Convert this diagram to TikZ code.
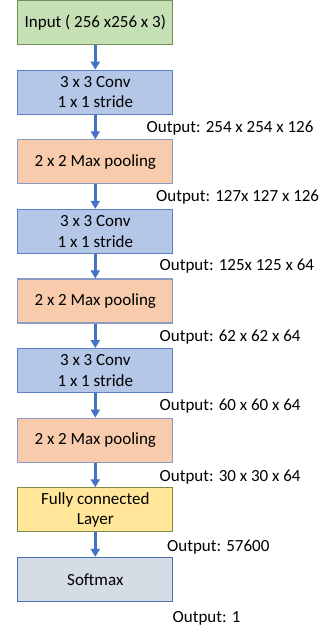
\documentclass[tikz,border=0pt]{standalone}
\usepackage{fontspec}
\setmainfont{Carlito}
\usepackage{tikz}
\usetikzlibrary{arrows.meta,positioning}
\definecolor{inputfill}{HTML}{C5E0B4}
\definecolor{inputdraw}{HTML}{6F8F55}
\definecolor{convfill}{HTML}{B4C7E7}
\definecolor{convdraw}{HTML}{5B7FC4}
\definecolor{poolfill}{HTML}{F8CBAD}
\definecolor{pooldraw}{HTML}{8A9BC6}
\definecolor{fcfill}{HTML}{FFE699}
\definecolor{fcdraw}{HTML}{7A8A48}
\definecolor{softfill}{HTML}{D6DCE5}
\definecolor{softdraw}{HTML}{4A6FB5}
\definecolor{arrowblue}{HTML}{4472C4}

\begin{document}
\begin{tikzpicture}[x=1pt, y=1pt,
    layer/.style={draw, line width=1.1pt, minimum width=155pt, minimum height=44pt,
        inner sep=0pt, align=center, font=\fontsize{17}{20.4}\selectfont},
    outlbl/.style={anchor=west, inner sep=0pt, font=\fontsize{17}{20.4}\selectfont},
    flow/.style={arrowblue, line width=3pt, -{Triangle[width=9pt, length=8pt]}},
    node distance=24.5pt]
    \useasboundingbox (0,0) rectangle (326,-633);

    % Layers
    \node[layer, fill=inputfill, draw=inputdraw] (input) at (95.3,-22.6) {Input ( 256 x256 x 3)};
    \node[layer, fill=convfill, draw=convdraw, below=of input] (conv1) {3 x 3 Conv\\1 x 1 stride};
    \node[layer, fill=poolfill, draw=pooldraw, below=of conv1] (pool1) {2 x 2 Max pooling};
    \node[layer, fill=convfill, draw=convdraw, below=of pool1] (conv2) {3 x 3 Conv\\1 x 1 stride};
    \node[layer, fill=poolfill, draw=pooldraw, below=of conv2] (pool2) {2 x 2 Max pooling};
    \node[layer, fill=convfill, draw=convdraw, below=of pool2] (conv3) {3 x 3 Conv\\1 x 1 stride};
    \node[layer, fill=poolfill, draw=pooldraw, below=of conv3] (pool3) {2 x 2 Max pooling};
    \node[layer, fill=fcfill, draw=fcdraw, below=of pool3] (fc) {Fully connected\\Layer};
    \node[layer, fill=softfill, draw=softdraw, below=of fc] (softmax) {Softmax};

    % Arrows
    \draw[flow] (input) -- (conv1);
    \draw[flow] (conv1) -- (pool1);
    \draw[flow] (pool1) -- (conv2);
    \draw[flow] (conv2) -- (pool2);
    \draw[flow] (pool2) -- (conv3);
    \draw[flow] (conv3) -- (pool3);
    \draw[flow] (pool3) -- (fc);
    \draw[flow] (fc) -- (softmax);

    % Output sizes
    \node[outlbl] (out1) at (146.5,-128) {Output: 254 x 254 x 126};
    \node[outlbl] (out2) at (156,-197) {Output: 127x 127 x 126};
    \node[outlbl] (out3) at (159.5,-266) {Output: 125x 125 x 64};
    \node[outlbl] (out4) at (159.5,-337.5) {Output: 62 x 62 x 64};
    \node[outlbl] (out5) at (159.5,-406.5) {Output: 60 x 60 x 64};
    \node[outlbl] (out6) at (159.5,-477.5) {Output: 30 x 30 x 64};
    \node[outlbl] (out7) at (167,-547) {Output: 57600};
    \node[outlbl] (out8) at (172.5,-618) {Output: 1};
\end{tikzpicture}
\end{document}
